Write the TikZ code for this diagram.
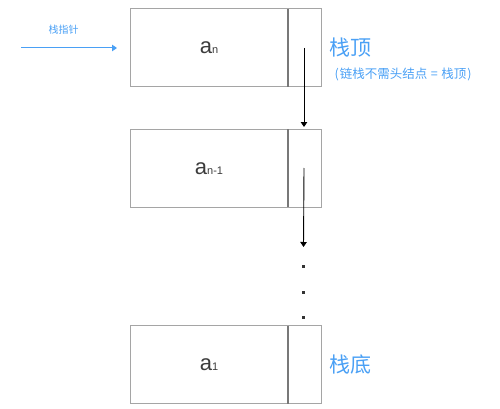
\documentclass[tikz,border=0pt]{standalone}
\usepackage{fontspec}
\setmainfont{Liberation Sans}
\newfontfamily\cjk{Noto Sans CJK SC}
\usetikzlibrary{arrows.meta}
\definecolor{myblue}{RGB}{74,160,245}
\definecolor{boxgray}{RGB}{165,165,165}
\definecolor{divgray}{RGB}{120,120,120}
\definecolor{txtgray}{RGB}{60,60,60}
\tikzset{
  datapart/.style={draw=boxgray, line width=1pt, minimum width=158pt, minimum height=78pt, inner sep=0pt, outer sep=0pt, anchor=north west, text=txtgray},
  ptrpart/.style={draw=boxgray, line width=1pt, minimum width=33pt, minimum height=78pt, inner sep=0pt, outer sep=0pt, anchor=north west},
  divider/.style={draw=divgray, line width=1.1pt},
  link/.style={draw=black, line width=0.9pt, -{Triangle[width=6.5pt,length=5pt]}},
  ptrarrow/.style={draw=myblue, line width=1pt, -{Triangle[width=6.5pt,length=5pt]}},
  dotnode/.style={rectangle, fill=black!80, draw=none, inner sep=0pt, minimum width=3pt, minimum height=3pt},
  bluebig/.style={text=myblue, font=\cjk\fontsize{21}{21}\selectfont, inner sep=0pt, anchor=west},
  bluesmall/.style={text=myblue, font=\cjk\fontsize{12.5}{12.5}\selectfont, inner sep=0pt, anchor=west},
  elem/.style={font=\fontsize{22}{22}\selectfont}
}
\newcommand{\elemlabel}[1]{a{\fontsize{11}{11}\selectfont #1}}
\begin{document}
\begin{tikzpicture}[x=1pt,y=-1pt]
\useasboundingbox (0,0) rectangle (500,409);
% box 1
\node[datapart] (d1) at (130,9) {};
\node[ptrpart] (p1) at (288,9) {};
\draw[divider] (d1.north east) -- (d1.south east);
\node[elem, text=txtgray] (t1) at (209,48) {\elemlabel{n}};
% box 2
\node[datapart] (d2) at (130,129) {};
\node[ptrpart] (p2) at (288,129) {};
\draw[divider] (d2.north east) -- (d2.south east);
\node[elem, text=txtgray] (t2) at (209,169) {\elemlabel{n-1}};
% box 3
\node[datapart] (d3) at (130,325.5) {};
\node[ptrpart] (p3) at (288,325.5) {};
\draw[divider] (d3.north east) -- (d3.south east);
\node[elem, text=txtgray] (t3) at (209,365) {\elemlabel{1}};
% links
\coordinate (s1) at ([xshift=-0.5pt]p1.center);
\coordinate (e1) at ([xshift=-0.5pt,yshift=2pt]p2.north);
\draw[link] (s1) -- (e1);
\coordinate (s2) at ([xshift=-0.5pt]p2.center);
\coordinate (e2) at (303.5,247);
\draw[link] (s2) -- (e2);
% dots
\node[dotnode] (dot1) at (303.7,266.7) {};
\node[dotnode] (dot2) at (303.7,292.3) {};
\node[dotnode] (dot3) at (303.7,317.7) {};
% stack pointer
\coordinate (sp) at (21,48);
\coordinate (spend) at (117,48);
\draw[ptrarrow] (sp) -- (spend);
\node[text=myblue, font=\cjk\fontsize{10}{10}\selectfont, inner sep=0pt] (splabel) at (63.5,30) {栈指针};
% labels
\node[bluebig] (top) at (329,48) {栈顶};
\node[bluesmall] (note) at (334.5,74) {(\hspace{1pt}链栈不需头结点\hspace{3.5pt}=\hspace{3.5pt}栈顶\hspace{1pt})};
\node[bluebig] (bottom) at (329,365) {栈底};
\end{tikzpicture}
\end{document}
